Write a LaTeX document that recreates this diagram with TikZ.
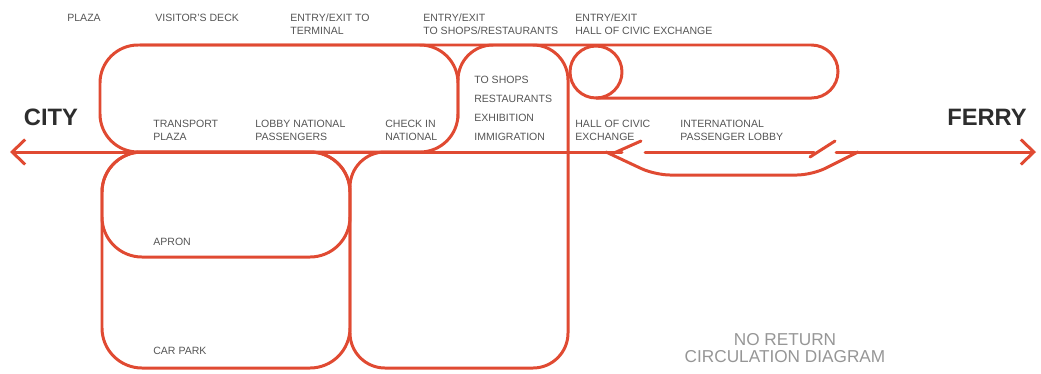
\documentclass[tikz,border=0pt]{standalone}
\usepackage{fontspec}
\setmainfont{Liberation Sans}
\usetikzlibrary{arrows.meta}
\definecolor{cred}{RGB}{224,74,50}
\definecolor{ctext}{RGB}{85,85,85}
\definecolor{clight}{RGB}{150,150,150}
\definecolor{cdark}{RGB}{45,45,45}
\tikzset{barbtip/.tip={Straight Barb[length=0.26cm,width=0.5cm]}}
\begin{document}
\begin{tikzpicture}[x=0.02cm,y=-0.02cm,
  route/.style={draw=cred,line width=1.7pt,line join=round,line cap=round},
  lbl/.style={inner sep=0pt,anchor=north west,align=left,text=ctext,font=\fontsize{6}{7.4}\selectfont},
  stack/.style={inner sep=0pt,anchor=north west,align=left,text=ctext,font=\fontsize{6}{10.8}\selectfont},
  big/.style={inner sep=0pt,text=cdark,font=\fontsize{13.5}{16}\selectfont\bfseries},
  note/.style={inner sep=0pt,text=clight,font=\fontsize{9.8}{9.7}\selectfont,align=center}]
\useasboundingbox (0,0) rectangle (1041,373);

% named points
\coordinate (arrL) at (10,152);
\coordinate (splitL) at (622,152);
\coordinate (midA) at (645,152);
\coordinate (midB) at (814,152);
\coordinate (joinR) at (836,152);
\coordinate (arrR) at (1036,152);

% upper-left loop (visitor's deck / lobby)
\draw[route,rounded corners=0.76cm] (100,45) rectangle (458,152);
% shops loop continuing into lower-right loop
\draw[route,rounded corners=0.7cm] (458,118) -- (458,45) -- (568,45) -- (568,368) -- (350,368) -- (350,152) -- (420,152);
% car park and apron loops
\draw[route,rounded corners=0.8cm] (102,152) rectangle (350,368);
\draw[route,rounded corners=0.8cm] (102,152) rectangle (350,257);
% top line and hall of civic exchange capsule
\draw[route,rounded corners=0.53cm] (140,45) -- (838,45) -- (838,98) -- (596,98);
\draw[route] (596,72) circle[radius=0.52cm];

% main line
\draw[route,{barbtip}-] (arrL) -- (splitL);
\draw[route] (midA) -- (midB);
\draw[route,-{barbtip}] (joinR) -- (arrR);
% one-way details and bypass
\draw[route] (614,153) -- (641,141);
\draw[route] (810,157) -- (835,141);
\draw[route,rounded corners=0.3cm] (606,152) -- (655,175) -- (812,175) -- (858,152);

% labels
\node[lbl] (plaza) at (67,14) {PLAZA};
\node[lbl] (deck) at (155,14) {VISITOR'S DECK};
\node[lbl] (term) at (290,14) {ENTRY/EXIT TO\\TERMINAL};
\node[lbl] (shops) at (423,14) {ENTRY/EXIT\\TO SHOPS/RESTAURANTS};
\node[lbl] (hallin) at (575,14) {ENTRY/EXIT\\HALL OF CIVIC EXCHANGE};
\node[lbl] (transport) at (153,120) {TRANSPORT\\PLAZA};
\node[lbl] (lobby) at (255,120) {LOBBY NATIONAL\\PASSENGERS};
\node[lbl] (checkin) at (385,120) {CHECK IN\\NATIONAL};
\node[stack] (tolist) at (474,76) {TO SHOPS\\RESTAURANTS\\EXHIBITION\\IMMIGRATION};
\node[lbl] (hall) at (575,120) {HALL OF CIVIC\\EXCHANGE};
\node[lbl] (intl) at (680,120) {INTERNATIONAL\\PASSENGER LOBBY};
\node[lbl] (apron) at (153,238) {APRON};
\node[lbl] (carpark) at (153,347) {CAR PARK};
\node[big] (city) at (51,117) {CITY};
\node[big] (ferry) at (987,117) {FERRY};
\node[note] (title) at (785,348) {NO RETURN\\CIRCULATION DIAGRAM};
\end{tikzpicture}
\end{document}
